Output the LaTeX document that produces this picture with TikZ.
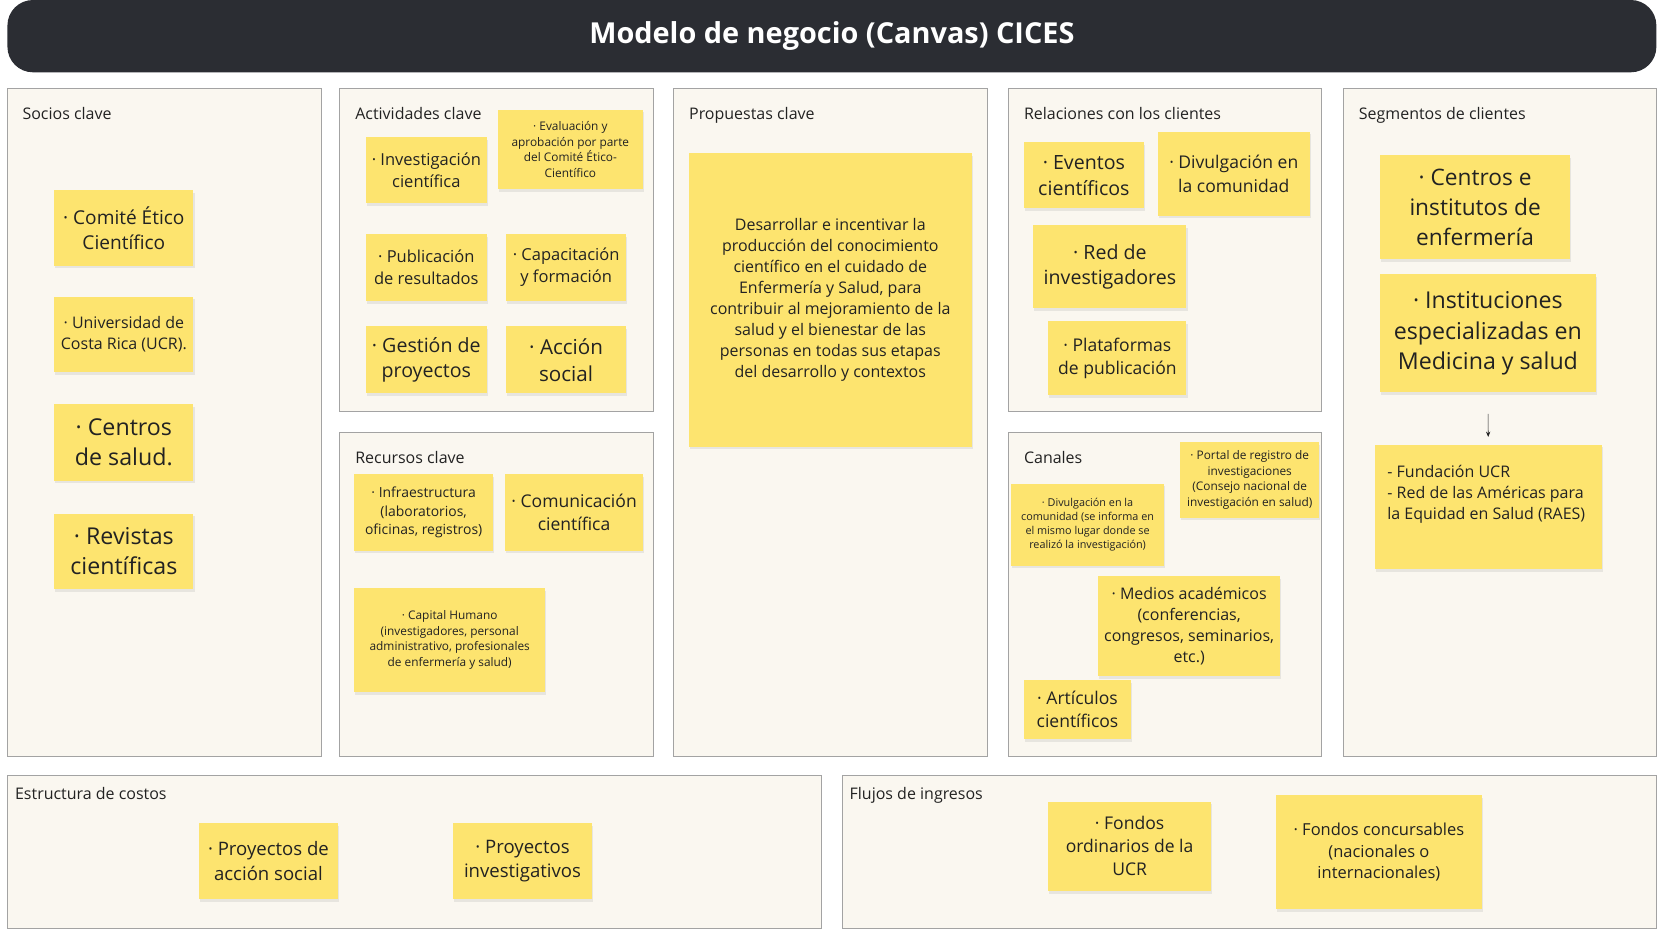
\documentclass[tikz,border=0pt]{standalone}
\usepackage{fontspec}
\setmainfont{Open Sans}
\usepackage{tikz}
\usetikzlibrary{arrows.meta,positioning,shadows}

\definecolor{barcol}{HTML}{2B2D33}
\definecolor{panelcol}{HTML}{FAF7F0}
\definecolor{edgecol}{HTML}{A3A3A3}
\definecolor{notecol}{HTML}{FDE46F}
\definecolor{inkcol}{HTML}{222222}
\newcommand{\fsz}[1]{\fontsize{\the\dimexpr#1pt*97/100\relax}{\the\dimexpr#1pt*128/100\relax}\selectfont}

\tikzset{
	panel/.style={draw=edgecol, fill=panelcol, line width=0.8pt, anchor=north west, inner sep=0pt},
	paneltitle/.style={anchor=base west, inner sep=0pt, text=inkcol, font=\fsz{15.5}},
	note/.style={fill=notecol, text=inkcol, align=center, inner sep=2pt,
		drop shadow={shadow xshift=1pt, shadow yshift=-2.5pt, opacity=0.15}},
}

\begin{document}
\begin{tikzpicture}[x=1pt, y=-1pt]
			\useasboundingbox (0,0) rectangle (1568,881.3);
			\fill [white] (0,0) rectangle (1568,881.3);

			\node [fill=barcol, rounded corners=24pt, minimum width=1551pt, minimum height=68pt,
				text=white, font=\bfseries\fsz{28}] (title) at (782.5,34) {Modelo de negocio (Canvas) CICES};

			\node [panel, minimum width=295pt, minimum height=628pt] (socios) at (7,83) {};
			\node [panel, minimum width=295pt, minimum height=304pt] (actividades) at (319,83) {};
			\node [panel, minimum width=295pt, minimum height=305pt] (recursos) at (319,406) {};
			\node [panel, minimum width=295pt, minimum height=628pt] (propuestas) at (633,83) {};
			\node [panel, minimum width=295pt, minimum height=304pt] (relaciones) at (948,83) {};
			\node [panel, minimum width=295pt, minimum height=305pt] (canales) at (948,406) {};
			\node [panel, minimum width=295pt, minimum height=628pt] (segmentos) at (1263,83) {};
			\node [panel, minimum width=765pt, minimum height=144pt] (costos) at (7,729) {};
			\node [panel, minimum width=766pt, minimum height=144pt] (ingresos) at (792,729) {};

			\node [paneltitle] (sociost) at (21,112) {Socios clave};
			\node [paneltitle] (actividadest) at (334,112) {Actividades clave};
			\node [paneltitle] (recursost) at (334,436) {Recursos clave};
			\node [paneltitle] (propuestast) at (648,112) {Propuestas clave};
			\node [paneltitle] (relacionest) at (963,112) {Relaciones con los clientes};
			\node [paneltitle] (canalest) at (963,436) {Canales};
			\node [paneltitle] (segmentost) at (1278,112) {Segmentos de clientes};
			\node [paneltitle] (costost) at (14,752) {Estructura de costos};
			\node [paneltitle] (ingresost) at (799,752) {Flujos de ingresos};

			\node [note, minimum width=131pt, minimum height=71pt, font=\fsz{18.5}] (comite) at (116.5,214.5) {· Comité Ético\\Científico};
			\node [note, minimum width=131pt, minimum height=71pt, font=\fsz{15.5}] (ucr) at (116.5,314.5) {· Universidad de\\Costa Rica (UCR).};
			\node [note, minimum width=131pt, minimum height=72pt, font=\fsz{22.5}] (csalud) at (116.5,416) {· Centros\\de salud.};
			\node [note, minimum width=131pt, minimum height=71pt, font=\fsz{22.5}] (revistas) at (116.5,518.5) {· Revistas\\científicas};

			\node [note, minimum width=114pt, minimum height=62pt, font=\fsz{16}] (investiga) at (401,160) {· Investigación\\científica};
			\node [note, minimum width=137pt, minimum height=75pt, font=\fsz{11.5}] (evalua) at (536.5,140.5) {· Evaluación y\\aprobación por parte\\del Comité Ético-\\Científico};
			\node [note, minimum width=114pt, minimum height=63pt, font=\fsz{16}] (publica) at (401,251.5) {· Publicación\\de resultados};
			\node [note, minimum width=113pt, minimum height=63pt, font=\fsz{16}] (capacita) at (532.5,251.5) {· Capacitación\\y formación};
			\node [note, minimum width=114pt, minimum height=63pt, font=\fsz{19}] (gestion) at (401,338.5) {· Gestión de\\proyectos};
			\node [note, minimum width=113pt, minimum height=63pt, font=\fsz{20}] (accion) at (532.5,338.5) {· Acción\\social};

			\node [note, minimum width=131pt, minimum height=72pt, font=\fsz{13.5}] (infra) at (398.5,482) {· Infraestructura\\(laboratorios,\\oficinas, registros)};
			\node [note, minimum width=130pt, minimum height=72pt, font=\fsz{17}] (comunica) at (540,482) {· Comunicación\\científica};
			\node [note, minimum width=180pt, minimum height=98pt, font=\fsz{11.5}] (capital) at (423,602) {· Capital Humano\\(investigadores, personal\\administrativo, profesionales\\de enfermería y salud)};

			\node [note, minimum width=266pt, minimum height=276pt, font=\fsz{15.5}] (propuesta) at (781,282) {Desarrollar e incentivar la\\producción del conocimiento\\científico en el cuidado de\\Enfermería y Salud, para\\contribuir al mejoramiento de la\\salud y el bienestar de las\\personas en todas sus etapas\\del desarrollo y contextos};

			\node [note, minimum width=113pt, minimum height=62pt, font=\fsz{19}] (eventos) at (1019.5,165) {· Eventos\\científicos};
			\node [note, minimum width=143pt, minimum height=79pt, font=\fsz{17}] (divulga) at (1160.5,163.5) {· Divulgación en\\la comunidad};
			\node [note, minimum width=144pt, minimum height=78pt, font=\fsz{19}] (redinv) at (1044,251) {· Red de\\investigadores};
			\node [note, minimum width=130pt, minimum height=70pt, font=\fsz{17}] (plataforma) at (1051,337) {· Plataformas\\de publicación};

			\node [note, minimum width=131pt, minimum height=71pt, font=\fsz{11.5}] (portal) at (1175.5,451.5) {· Portal de registro de\\investigaciones\\(Consejo nacional de\\investigación en salud)};
			\node [note, minimum width=144pt, minimum height=77pt, font=\fsz{10.5}] (divcom) at (1023,493.5) {· Divulgación en la\\comunidad (se informa en\\el mismo lugar donde se\\realizó la investigación)};
			\node [note, minimum width=171pt, minimum height=94pt, font=\fsz{15.5}] (medios) at (1118.5,589) {· Medios académicos\\(conferencias,\\congresos, seminarios,\\etc.)};
			\node [note, minimum width=101pt, minimum height=55pt, font=\fsz{17}] (articulos) at (1013.5,667.5) {· Artículos\\científicos};

			\node [note, minimum width=179pt, minimum height=98pt, font=\fsz{22}] (centros) at (1387.5,195) {· Centros e\\institutos de\\enfermería};
			\node [note, minimum width=203pt, minimum height=111pt, font=\fsz{22.5}] (instit) at (1399.5,313.5) {· Instituciones\\especializadas en\\Medicina y salud};
			\node [note, inner xsep=12pt, inner ysep=11pt, font=\fsz{15.5}, anchor=north] (fundacion) at (1400,418)
				{\begin{minipage}[t][95pt][t]{190pt}\vspace{8pt}\raggedright - Fundación UCR\\- Red de las Américas para\\la Equidad en Salud (RAES)\end{minipage}};

			\node [note, minimum width=131pt, minimum height=72pt, font=\fsz{18}] (accsocial) at (252.5,810) {· Proyectos de\\acción social};
			\node [note, minimum width=131pt, minimum height=72pt, font=\fsz{18}] (proyinv) at (491.5,810) {· Proyectos\\investigativos};
			\node [note, minimum width=153pt, minimum height=84pt, font=\fsz{17}] (fondord) at (1062.5,796) {· Fondos\\ordinarios de la\\UCR};
			\node [note, minimum width=194pt, minimum height=107pt, font=\fsz{16}] (fondconc) at (1297,801.5) {· Fondos concursables\\(nacionales o\\internacionales)};

			\draw [-{Stealth[length=5pt,width=4pt]}, draw=inkcol, line width=0.6pt, shorten <=20pt, shorten >=7pt] (instit) to (fundacion);
		\end{tikzpicture}
\end{document}
